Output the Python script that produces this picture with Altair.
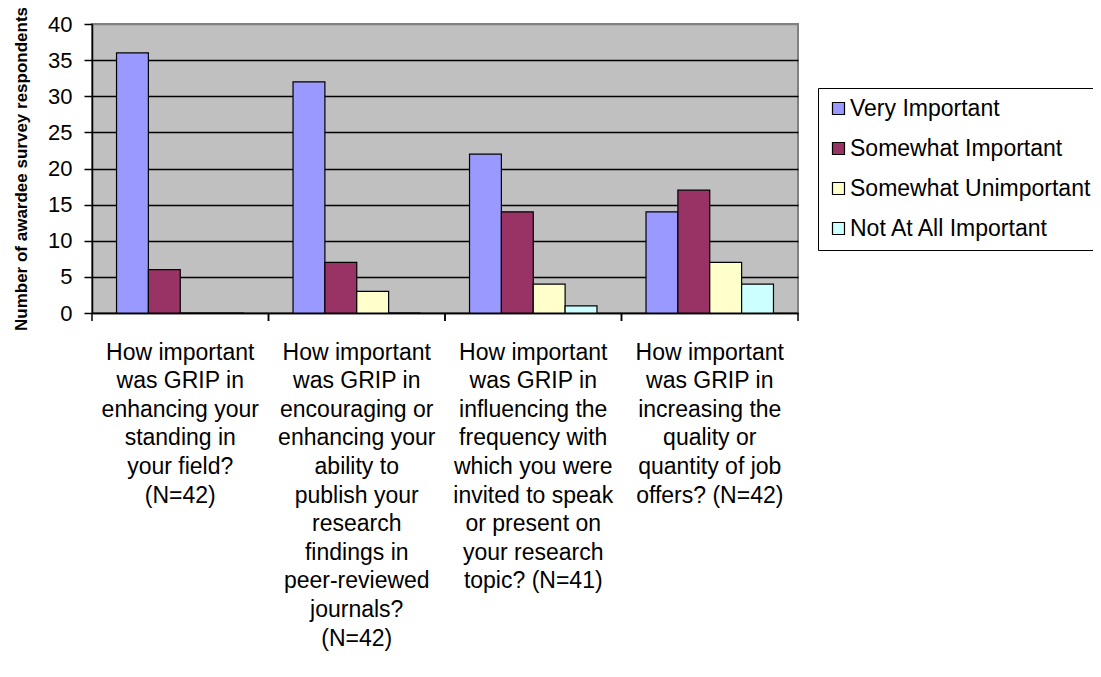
import altair as alt
import pandas as pd

questions = [
    "How important\nwas GRIP in\nenhancing your\nstanding in\nyour field?\n(N=42)",
    "How important\nwas GRIP in\nencouraging or\nenhancing your\nability to\npublish your\nresearch\nfindings in\npeer-reviewed\njournals?\n(N=42)",
    "How important\nwas GRIP in\ninfluencing the\nfrequency with\nwhich you were\ninvited to speak\nor present on\nyour research\ntopic? (N=41)",
    "How important\nwas GRIP in\nincreasing the\nquality or\nquantity of job\noffers? (N=42)",
]
responses = ["Very Important", "Somewhat Important", "Somewhat Unimportant", "Not At All Important"]
colors = ["#9999FF", "#993366", "#FFFFCC", "#CCFFFF"]

very_important = [36, 32, 22, 14]
somewhat_important = [6, 7, 14, 17]
somewhat_unimportant = [0, 3, 4, 7]
not_at_all_important = [0, 0, 1, 4]

series = [very_important, somewhat_important, somewhat_unimportant, not_at_all_important]
rows = []
for r, vals in zip(responses, series):
    for q, v in zip(questions, vals):
        rows.append({"question": q, "response": r, "count": v})
df = pd.DataFrame(rows)
qdf = pd.DataFrame({"question": questions})

W, H = 706, 289
FONT = "Liberation Sans"

x_axis = alt.Axis(
    title=None, ticks=False, labelAngle=0, labelFontSize=23, labelColor="black",
    labelFont=FONT, labelExpr="split(datum.label, '\\n')",
    labelLineHeight=28.6, labelPadding=28, labelLimit=400, labelOverlap=False,
    labelBaseline="top", domainColor="black", domainWidth=1.5, grid=False,
)
x_scale = alt.Scale(paddingInner=0, paddingOuter=0)

bars = alt.Chart(df).mark_bar(stroke="black", strokeWidth=1.2).encode(
    x=alt.X("question:N", sort=questions, scale=x_scale, axis=x_axis, title=None),
    xOffset=alt.XOffset("response:N", sort=responses,
                        scale=alt.Scale(paddingOuter=0.77, paddingInner=0)),
    y=alt.Y("count:Q", scale=alt.Scale(domain=[0, 40]),
            axis=alt.Axis(values=list(range(0, 41, 5)), title="Number of awardee survey respondents",
                          titleFontSize=17, titleFont=FONT, titleFontWeight="bold",
                          titleColor="black", titlePadding=17,
                          labelFontSize=22, labelFont=FONT, labelColor="black",
                          labelPadding=12, tickSize=8, tickColor="black", tickWidth=1.5,
                          domainColor="black", domainWidth=1.5,
                          gridColor={"condition": {"test": "datum.value == 40", "value": "#808080"}, "value": "black"},
                          gridWidth=1.5)),
    color=alt.Color("response:N", sort=responses,
                    scale=alt.Scale(domain=responses, range=colors),
                    legend=alt.Legend(title=None, orient="none", legendX=726, legendY=64,
                                      symbolType="square", symbolSize=144,
                                      symbolStrokeColor="black", symbolStrokeWidth=1.2,
                                      labelFontSize=23, labelFont=FONT, labelColor="black",
                                      labelLimit=400, labelOffset=0, rowPadding=16, padding=9,
                                      strokeColor="black", fillColor="white")),
)

ticks_left = alt.Chart(qdf).mark_rule(color="black", strokeWidth=1.5).encode(
    x=alt.X("question:N", sort=questions, scale=x_scale, axis=x_axis, title=None, bandPosition=0),
    y=alt.value(H), y2=alt.value(H + 8),
)
ticks_right = alt.Chart(qdf).mark_rule(color="black", strokeWidth=1.5).encode(
    x=alt.X("question:N", sort=questions, scale=x_scale, axis=x_axis, title=None, bandPosition=1),
    y=alt.value(H), y2=alt.value(H + 8),
)

chart = alt.layer(bars, ticks_left, ticks_right).properties(
    width=W, height=H,
    autosize=alt.AutoSizeParams(type="none"),
    padding={"left": 84, "top": 16, "right": 295, "bottom": 345},
    background="white",
).configure_view(fill="#C0C0C0", stroke="#808080", strokeWidth=2)

chart.save("out.html", embed_options={"renderer": "svg", "actions": False})
